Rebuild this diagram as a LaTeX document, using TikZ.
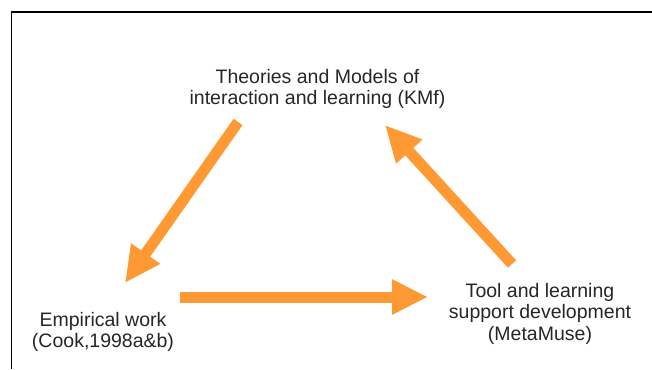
\documentclass[tikz,border=0pt]{standalone}
\usepackage{fontspec}
\setmainfont{Liberation Sans}
\usetikzlibrary{arrows.meta}
\definecolor{flow}{RGB}{255,153,51}
\begin{document}
\begin{tikzpicture}[x=1pt,y=-1pt,
  label text/.style={align=center,inner sep=0pt,anchor=north,
    font=\fontsize{19.5}{21.5}\selectfont,text=black!85},
  flow arrow/.style={draw=flow,line width=11pt,
    -{Triangle[length=36pt,width=33pt]}}]
  \useasboundingbox (0,0) rectangle (652,369);
  % frame
  \draw[line width=1.8pt] (652,12) -- (11.5,12) -- (11.5,369);

  % labels
  \node[label text] (theory) at (317.5,69)
    {Theories and Models of\\interaction and learning (KMf)};
  \node[label text] (empirical) at (103,312)
    {Empirical work\\(Cook,1998a\&b)};
  \node[label text] (tool) at (540,283)
    {Tool and learning\\support development\\(MetaMuse)};

  % arrow ends
  \coordinate (theoryout) at (238,122);
  \coordinate (empiricalin) at (125,283);
  \coordinate (empiricalout) at (180,297);
  \coordinate (toolin) at (428,297);
  \coordinate (toolout) at (512,264);
  \coordinate (theoryin) at (385,125);

  \draw[flow arrow] (theoryout) -- (empiricalin);
  \draw[flow arrow] (empiricalout) -- (toolin);
  \draw[flow arrow] (toolout) -- (theoryin);
\end{tikzpicture}
\end{document}
